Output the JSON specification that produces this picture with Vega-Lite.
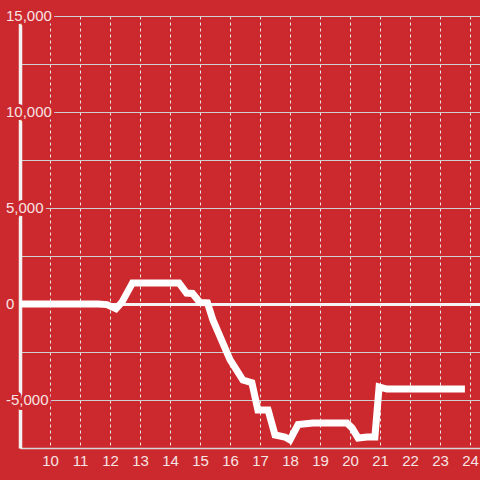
{
  "$schema": "https://vega.github.io/schema/vega-lite/v6.json",
  "autosize": {"type": "none"},
  "width": 460,
  "height": 432,
  "padding": {"left": 20, "top": 16, "right": 0, "bottom": 32},
  "background": "#cc292e",
  "config": {
    "view": {"stroke": null},
    "axis": {"labelFont": "Liberation Sans", "labelFontSize": 15, "labelColor": "#f6e4e4", "ticks": false},
    "axisX": {
      "title": null,
      "format": "d",
      "labelPadding": 5,
      "labelFlush": false,
      "labelOverlap": false,
      "domainColor": "#d6d6d6",
      "domainWidth": 1.5,
      "gridColor": "#e6e6e6",
      "gridDash": [3, 3],
      "gridWidth": 1,
      "gridOpacity": 1
    }
  },
  "datasets": {
    "series": [
      {"t": 9.0, "v": 0},
      {"t": 11.6, "v": 0},
      {"t": 11.9, "v": -30},
      {"t": 12.2, "v": -250},
      {"t": 12.4, "v": 100},
      {"t": 12.75, "v": 1100},
      {"t": 14.3, "v": 1100},
      {"t": 14.55, "v": 570},
      {"t": 14.75, "v": 550},
      {"t": 15.0, "v": 80},
      {"t": 15.25, "v": 60},
      {"t": 15.43, "v": -830},
      {"t": 16.0, "v": -2900},
      {"t": 16.43, "v": -3960},
      {"t": 16.73, "v": -4100},
      {"t": 16.93, "v": -5520},
      {"t": 17.27, "v": -5520},
      {"t": 17.5, "v": -6820},
      {"t": 17.83, "v": -6930},
      {"t": 18.0, "v": -7080},
      {"t": 18.27, "v": -6280},
      {"t": 18.77, "v": -6200},
      {"t": 19.9, "v": -6200},
      {"t": 20.07, "v": -6460},
      {"t": 20.27, "v": -6980},
      {"t": 20.57, "v": -6930},
      {"t": 20.83, "v": -6930},
      {"t": 20.97, "v": -4320},
      {"t": 21.23, "v": -4430},
      {"t": 23.83, "v": -4430}
    ],
    "ylabels": [
      {"v": 15000, "label": "15,000"},
      {"v": 10000, "label": "10,000"},
      {"v": 5000, "label": "5,000"},
      {"v": 0, "label": "0"},
      {"v": -5000, "label": "-5,000"}
    ]
  },
  "encoding": {
    "y": {
      "field": "v", "type": "quantitative",
      "scale": {"domain": [-7500, 15000], "nice": false},
      "axis": {
        "title": null,
        "values": [-7500, -5000, -2500, 0, 2500, 5000, 7500, 10000, 12500, 15000],
        "labels": false,
        "domainColor": "#f2f2f2",
        "domainWidth": 3.5,
        "gridColor": {"condition": {"test": "datum.value == 0", "value": "#f4f4f4"}, "value": "#cfcfcf"},
        "gridWidth": {"condition": {"test": "datum.value == 0", "value": 3}, "value": 1.2},
        "gridOpacity": 1
      }
    }
  },
  "layer": [
    {
      "data": {"name": "series"},
      "mark": {"type": "line", "color": "#ffffff", "strokeWidth": 7, "clip": true},
      "encoding": {
        "x": {
          "field": "t", "type": "quantitative", "title": null,
          "scale": {"domain": [9, 24.3333], "nice": false, "zero": false},
          "axis": {"values": [10, 11, 12, 13, 14, 15, 16, 17, 18, 19, 20, 21, 22, 23, 24]}
        }
      }
    },
    {
      "data": {"name": "ylabels"},
      "mark": {"type": "text", "align": "left", "baseline": "middle", "dx": -14, "font": "Liberation Sans", "fontSize": 15, "fill": null, "stroke": "#cc292e", "strokeWidth": 6, "strokeJoin": "round"},
      "encoding": {
        "x": {"datum": 9, "type": "quantitative", "title": null,
          "axis": {"values": [10, 11, 12, 13, 14, 15, 16, 17, 18, 19, 20, 21, 22, 23, 24]}},
        "text": {"field": "label", "type": "nominal"}
      }
    },
    {
      "data": {"name": "ylabels"},
      "mark": {"type": "text", "align": "left", "baseline": "middle", "dx": -14, "font": "Liberation Sans", "fontSize": 15, "color": "#f6e4e4"},
      "encoding": {
        "x": {"datum": 9, "type": "quantitative", "title": null,
          "axis": {"values": [10, 11, 12, 13, 14, 15, 16, 17, 18, 19, 20, 21, 22, 23, 24]}},
        "text": {"field": "label", "type": "nominal"}
      }
    }
  ]
}
